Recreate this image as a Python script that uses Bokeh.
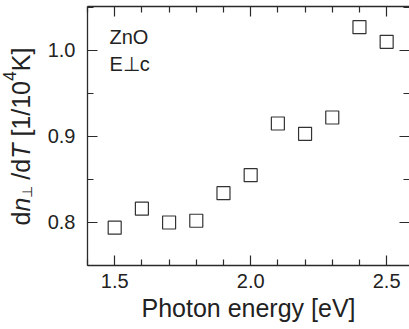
import math

from bokeh.core.properties import value
from bokeh.embed import file_html
from bokeh.layouts import row
from bokeh.models import Label, LinearAxis, Range1d, FixedTicker
from bokeh.plotting import figure
from bokeh.resources import INLINE

# Temperature coefficient of the ordinary refractive index of ZnO
photon_energy = [1.5, 1.6, 1.7, 1.8, 1.9, 2.0, 2.1, 2.2, 2.3, 2.4, 2.5]
dn_dT = [0.794, 0.816, 0.800, 0.802, 0.834, 0.855, 0.915, 0.903, 0.922, 1.027, 1.010]

x_major = [1.5, 2.0, 2.5]
x_minor = [1.4, 1.6, 1.7, 1.8, 1.9, 2.1, 2.2, 2.3, 2.4]
y_major = [0.8, 0.9, 1.0]
y_minor = [0.75, 0.85, 0.95, 1.05]
x_tick_labels = {1.5: "1.5", 2.0: "2.0", 2.5: "2.5"}
y_tick_labels = {0.8: "0.8", 0.9: "0.9", 1.0: "1.0"}

FONT = "Liberation Sans"
INK = "#222222"
AXIS = "#2a2a2a"
HEIGHT = 329
TITLE_W = 44
BORDER_TOP = 6
BORDER_BOTTOM = 64

p = figure(
    width=409 - TITLE_W, height=HEIGHT,
    x_range=Range1d(1.4, 2.584), y_range=Range1d(0.75, 1.051),
    output_backend="svg", toolbar_location=None,
    x_axis_location=None, y_axis_location=None,
    min_border_left=87 - TITLE_W, min_border_right=0,
    min_border_top=BORDER_TOP, min_border_bottom=BORDER_BOTTOM,
)
p.outline_line_color = None
p.grid.visible = False
p.background_fill_color = "white"
p.border_fill_color = "white"


def style_axis(ax, show_labels=True, show_line=True):
    ax.axis_line_color = AXIS if show_line else None
    ax.axis_line_width = 1.3
    ax.major_tick_line_color = AXIS
    ax.minor_tick_line_color = AXIS
    ax.major_tick_line_width = 1.2
    ax.minor_tick_line_width = 1.2
    ax.major_tick_in = 10
    ax.major_tick_out = 0
    ax.minor_tick_in = 6
    ax.minor_tick_out = 0
    ax.major_label_text_font = FONT
    ax.major_label_text_color = INK
    if show_labels:
        ax.major_label_text_font_size = "20px"
    else:
        ax.major_label_text_font_size = "0px"
        ax.major_label_standoff = 0


xt = FixedTicker(ticks=x_major, minor_ticks=x_minor)
yt = FixedTicker(ticks=y_major, minor_ticks=y_minor)

bottom = LinearAxis(ticker=xt, major_label_overrides=x_tick_labels)
style_axis(bottom)
bottom.major_label_standoff = 8
bottom.axis_label = "Photon energy [eV]"
bottom.axis_label_text_font = FONT
bottom.axis_label_text_font_size = "25px"
bottom.axis_label_text_font_style = "normal"
bottom.axis_label_text_color = INK
bottom.axis_label_standoff = 3
p.add_layout(bottom, "below")

left = LinearAxis(ticker=yt, major_label_overrides=y_tick_labels)
style_axis(left)
left.major_label_standoff = 12
p.add_layout(left, "left")

# Mirror axes: ticks only
top = LinearAxis(ticker=xt, major_label_overrides={v: "" for v in x_major})
style_axis(top, show_labels=False)
p.add_layout(top, "above")

right = LinearAxis(ticker=yt, major_label_overrides={v: "" for v in y_major})
style_axis(right, show_labels=False, show_line=False)
p.add_layout(right, "right")

p.scatter(photon_energy, dn_dT, marker="square", size=13,
          fill_color=None, line_color="#333333", line_width=1.2)

# Sample annotation in the upper-left corner
for txt, y in (("ZnO", 229), ("E\u22a5c", 202)):
    p.add_layout(Label(x=22, y=y, x_units="screen", y_units="screen", text=txt,
                       text_font=FONT, text_font_size="20px", text_color=INK,
                       text_baseline="alphabetic", text_align="left"))

# Narrow strip on the left carrying the rotated y-axis title: dn⊥/dT [1/10⁴K].
# Its frame lines up with the main frame, so the y range is set to count
# pixels upward from the bottom of the canvas.
t = figure(width=TITLE_W, height=HEIGHT, x_range=Range1d(0, TITLE_W),
           y_range=Range1d(BORDER_BOTTOM, HEIGHT - BORDER_TOP),
           output_backend="svg", toolbar_location=None,
           x_axis_location=None, y_axis_location=None,
           min_border_left=0, min_border_right=0,
           min_border_top=BORDER_TOP, min_border_bottom=BORDER_BOTTOM)
t.outline_line_color = None
t.grid.visible = False
t.border_fill_color = "white"
t.background_fill_color = "white"

F = 25
pieces = [
    # text, gap before (em), advance (em of its own size), italic, size scale, baseline shift (px, + = below)
    ("d", 0.0, 0.556, False, 1.0, 0),
    ("n", 0.0, 0.556, True, 1.0, 0),
    ("\u22a5", 0.0, 1.31, False, 0.55, 6),
    ("/d", 0.0, 0.834, False, 1.0, 0),
    ("T", 0.0, 0.611, True, 1.0, 0),
    ("[1/10", 0.278, 2.224, False, 1.0, 0),
    ("4", 0.0, 0.556, False, 0.7, -12),
    ("K]", 0.0, 0.945, False, 1.0, 0),
]
base_x = 20.5
pos = HEIGHT - 225
for txt, gap, adv, italic, scale, shift in pieces:
    size = F * scale
    pos += gap * F
    t.text(x=[base_x + shift], y=[pos], text=[txt], angle=math.pi / 2,
           text_font=value(FONT), text_font_size=value(f"{size:.1f}px"),
           text_font_style=value("italic" if italic else "normal"),
           text_color=INK, text_baseline="alphabetic", text_align="left")
    pos += adv * size

layout = row(t, p, spacing=0)
open("out.html", "w").write(file_html(layout, INLINE))
